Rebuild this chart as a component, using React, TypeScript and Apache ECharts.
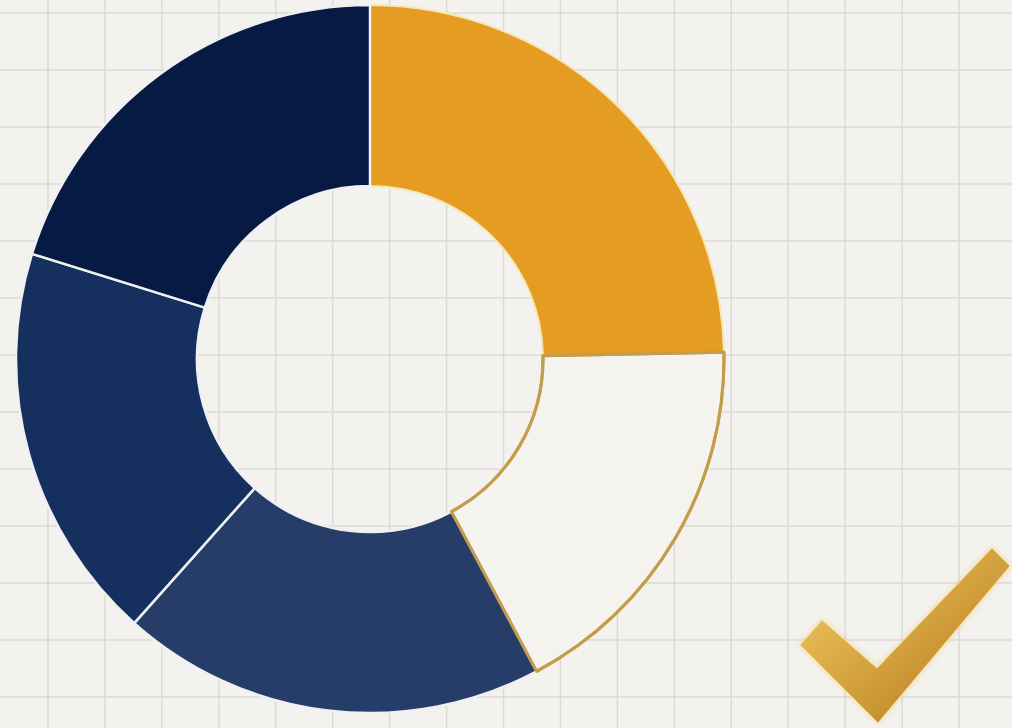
import React, { useEffect, useRef } from "react";
import * as echarts from "echarts";

const categories = ["Segment A", "Segment B", "Segment C", "Segment D", "Segment E"];
const values = [24.7, 17.5, 19.4, 18.2, 20.2];
const colors = ["#E49C22", "#F5F3EE", "#273D69", "#15305E", "#061A44"];
const borderColors = ["#F7E6B4", "#C49C4E", "#EEF0F2", "#EEF0F2", "#EEF0F2"];
const borderWidths = [2, 3, 2.5, 2.5, 2.5];

const gridXs = Array.from({ length: 18 }, (_, i) => 48 + i * 56.94);
const gridYs = Array.from({ length: 13 }, (_, i) => 13 + i * 57);

export default function App() {
  const ref = useRef<HTMLDivElement>(null);
  useEffect(() => {
    if (!ref.current) return;
    const chart = echarts.init(ref.current, undefined, { renderer: "svg" });
    const gridLines: any[] = [];
    gridXs.forEach((x) =>
      gridLines.push({
        type: "line",
        z: 0,
        shape: { x1: x, y1: 0, x2: x, y2: 728 },
        style: { stroke: "#DCDAD5", lineWidth: 1.5 },
        silent: true,
      })
    );
    gridYs.forEach((y) =>
      gridLines.push({
        type: "line",
        z: 0,
        shape: { x1: 0, y1: y, x2: 1012, y2: y },
        style: { stroke: "#DCDAD5", lineWidth: 1.5 },
        silent: true,
      })
    );
    const pieBase = {
      type: "pie",
      center: [370, 359],
      radius: [173, 354],
      startAngle: 90,
      clockwise: true,
      label: { show: false },
      labelLine: { show: false },
      emphasis: { disabled: true },
      silent: true,
    };
    chart.setOption({
      animation: false,
      backgroundColor: "#F3F2EE",
      graphic: [
        ...gridLines,
        {
          type: "polygon",
          z: 5,
          shape: {
            points: [
              [822, 620],
              [877, 668],
              [992, 548],
              [1010, 566],
              [878, 723],
              [800, 645],
            ],
          },
          style: {
            fill: new echarts.graphic.LinearGradient(0, 0, 1, 1, [
              { offset: 0, color: "#F2D274" },
              { offset: 0.35, color: "#DEB04A" },
              { offset: 0.7, color: "#C68F30" },
              { offset: 1, color: "#A3701F" },
            ]),
            stroke: "#F7E3A6",
            lineWidth: 1,
            shadowBlur: 6,
            shadowColor: "rgba(240,200,110,0.6)",
          },
        },
      ],
      series: [
        {
          ...pieBase,
          z: 2,
          data: categories.map((name, i) => ({
            name,
            value: values[i],
            itemStyle: {
              color: colors[i],
              borderColor: borderColors[i],
              borderWidth: borderWidths[i],
            },
          })),
        },
        {
          ...pieBase,
          z: 3,
          data: categories.map((name, i) => ({
            name,
            value: values[i],
            itemStyle: {
              color: "rgba(0,0,0,0)",
              borderColor: i === 1 ? borderColors[i] : "rgba(0,0,0,0)",
              borderWidth: i === 1 ? borderWidths[i] : 0,
            },
          })),
        },
      ],
    });
    return () => chart.dispose();
  }, []);
  return (
    <div
      ref={ref}
      style={{ position: "fixed", left: 0, top: 0, width: 1012, height: 728 }}
    />
  );
}
